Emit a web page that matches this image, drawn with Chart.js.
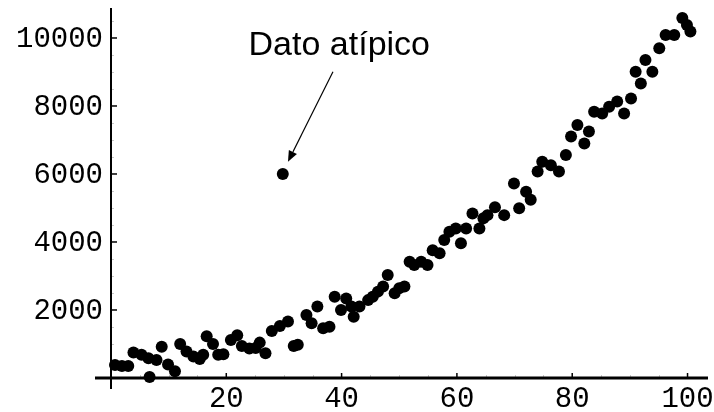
<!DOCTYPE html>
<html>
<head>
<meta charset="utf-8">
<script src="https://cdn.jsdelivr.net/npm/chart.js@4.4.1/dist/chart.umd.min.js"></script>
<style>
  html, body { margin: 0; padding: 0; background: #fff; }
  #wrap { width: 714px; height: 412px; }
</style>
</head>
<body>
<div id="wrap"><canvas id="scatterChart" width="714" height="412"></canvas></div>
<script>
// Datos
const xValues = [
  0.7, 1.9, 3.0, 3.9, 5.3, 6.5, 6.7, 7.9, 8.8, 9.9,
  11.1, 12.0, 13.1, 14.3, 15.4, 16.0, 16.6, 17.7, 18.6, 19.5,
  20.8, 21.9, 22.7, 24.0, 25.1, 25.8, 26.8, 27.9, 29.3, 29.8,
  30.7, 31.7, 32.4, 33.9, 34.8, 35.8, 36.8, 37.9, 38.8, 39.9,
  40.8, 41.7, 42.1, 43.1, 44.6, 45.4, 46.3, 47.2, 48.0, 49.2,
  50.0, 50.9, 51.8, 52.6, 53.8, 54.9, 55.8, 57.0, 57.8, 58.7,
  59.8, 60.7, 61.6, 62.7, 63.9, 64.6, 65.3, 66.6, 68.2, 69.9,
  70.8, 72.0, 72.8, 74.0, 74.8, 76.3, 77.7, 78.9, 79.8, 80.9,
  82.1, 82.9, 83.8, 85.2, 86.4, 87.8, 89.0, 90.2, 91.0, 91.9,
  92.7, 93.9, 95.1, 96.2, 97.7, 99.1, 99.9, 100.5
];
const yValues = [
  380, 350, 350, 750, 680, 580, 30, 530, 920, 400,
  200, 1000, 780, 630, 560, 680, 1230, 1000, 680, 700,
  1120, 1260, 940, 870, 880, 1040, 730, 1380, 1530, 6000,
  1660, 940, 980, 1850, 1610, 2100, 1460, 1510, 2390, 2000,
  2340, 2100, 1800, 2100, 2290, 2390, 2540, 2690, 3030, 2490,
  2640, 2690, 3420, 3320, 3420, 3320, 3760, 3670, 4060, 4300,
  4400, 3960, 4400, 4840, 4400, 4700, 4790, 5020, 4790, 5720,
  4990, 5480, 5240, 6070, 6360, 6260, 6070, 6560, 7100, 7440,
  6900, 7250, 7830, 7780, 7980, 8130, 7780, 8220, 9010, 8660,
  9350, 9010, 9700, 10090, 10090, 10590, 10380, 10190
];
const xTicks = [20, 40, 60, 80, 100];
const yTicks = [2000, 4000, 6000, 8000, 10000];

// Anotacion (en coordenadas de datos)
const noteText = "Dato atípico";
const noteAt = [39.6, 9500];
const arrowFrom = [38.5, 9010];
const arrowTo = [30.7, 6360];

const points = xValues.map((x, i) => ({ x: x, y: yValues[i] }));

const axesPlugin = {
  id: "mathAxes",
  beforeDatasetsDraw(chart) {
    const { ctx, chartArea, scales } = chart;
    const sx = scales.x, sy = scales.y;
    const x0 = Math.round(sx.getPixelForValue(0));
    const y0 = Math.round(sy.getPixelForValue(0));
    ctx.save();

    // minor ticks
    ctx.strokeStyle = "#c8c8c8";
    ctx.lineWidth = 1;
    for (let v = 5; v <= 100; v += 5) {
      if (v % 20 === 0) continue;
      const px = Math.round(sx.getPixelForValue(v)) + 0.5;
      ctx.beginPath(); ctx.moveTo(px, y0); ctx.lineTo(px, y0 - 3); ctx.stroke();
    }
    for (let v = 500; v <= 10500; v += 500) {
      if (v % 2000 === 0) continue;
      const py = Math.round(sy.getPixelForValue(v)) + 0.5;
      ctx.beginPath(); ctx.moveTo(x0, py); ctx.lineTo(x0 + 3, py); ctx.stroke();
    }

    // major ticks
    ctx.strokeStyle = "#000";
    ctx.lineWidth = 1.5;
    xTicks.forEach(v => {
      const px = sx.getPixelForValue(v);
      ctx.beginPath(); ctx.moveTo(px, y0); ctx.lineTo(px, y0 - 5); ctx.stroke();
    });
    yTicks.forEach(v => {
      const py = sy.getPixelForValue(v);
      ctx.beginPath(); ctx.moveTo(x0, py); ctx.lineTo(x0 + 6, py); ctx.stroke();
    });

    // axes
    ctx.lineWidth = 3;
    ctx.beginPath(); ctx.moveTo(chartArea.left, y0); ctx.lineTo(chartArea.right, y0); ctx.stroke();
    ctx.lineWidth = 2;
    ctx.beginPath(); ctx.moveTo(x0, chartArea.top); ctx.lineTo(x0, chartArea.bottom); ctx.stroke();

    // tick labels
    ctx.fillStyle = "#000";
    ctx.font = "29px 'Liberation Mono', 'DejaVu Sans Mono', monospace";
    ctx.textBaseline = "alphabetic";
    ctx.textAlign = "right";
    yTicks.forEach(v => {
      ctx.fillText(String(v), x0 - 8, sy.getPixelForValue(v) + 9);
    });
    ctx.textAlign = "center";
    xTicks.forEach(v => {
      ctx.fillText(String(v), sx.getPixelForValue(v), y0 + 29);
    });
    ctx.restore();
  },
  afterDatasetsDraw(chart) {
    const { ctx, scales } = chart;
    const sx = scales.x, sy = scales.y;
    ctx.save();
    ctx.fillStyle = "#000";
    ctx.font = "34px 'Liberation Sans', Arial, sans-serif";
    ctx.textAlign = "center";
    ctx.textBaseline = "alphabetic";
    ctx.fillText(noteText, sx.getPixelForValue(noteAt[0]), sy.getPixelForValue(noteAt[1]));

    // flecha
    const ax = sx.getPixelForValue(arrowFrom[0]), ay = sy.getPixelForValue(arrowFrom[1]);
    const bx = sx.getPixelForValue(arrowTo[0]), by = sy.getPixelForValue(arrowTo[1]);
    const ang = Math.atan2(by - ay, bx - ax);
    const headLen = 11, headW = 4.5;
    const hx = bx - headLen * Math.cos(ang), hy = by - headLen * Math.sin(ang);
    ctx.strokeStyle = "#000";
    ctx.lineWidth = 1.2;
    ctx.beginPath(); ctx.moveTo(ax, ay); ctx.lineTo(hx, hy); ctx.stroke();
    ctx.beginPath();
    ctx.moveTo(bx, by);
    ctx.lineTo(hx + headW * Math.sin(ang), hy - headW * Math.cos(ang));
    ctx.lineTo(hx - headW * Math.sin(ang), hy + headW * Math.cos(ang));
    ctx.closePath();
    ctx.fill();
    ctx.restore();
  }
};

new Chart(document.getElementById("scatterChart"), {
  type: "scatter",
  data: {
    datasets: [{
      data: points,
      pointRadius: 6,
      pointHoverRadius: 6,
      backgroundColor: "#000",
      borderWidth: 0,
      clip: false
    }]
  },
  options: {
    responsive: false,
    animation: false,
    layout: { padding: { left: 95, right: 5, top: 8, bottom: 23 } },
    plugins: { legend: { display: false }, tooltip: { enabled: false } },
    scales: {
      x: { type: "linear", display: false, min: -2.77, max: 103.55 },
      y: { type: "linear", display: false, min: -324, max: 10882 }
    }
  },
  plugins: [axesPlugin]
});
</script>
</body>
</html>
